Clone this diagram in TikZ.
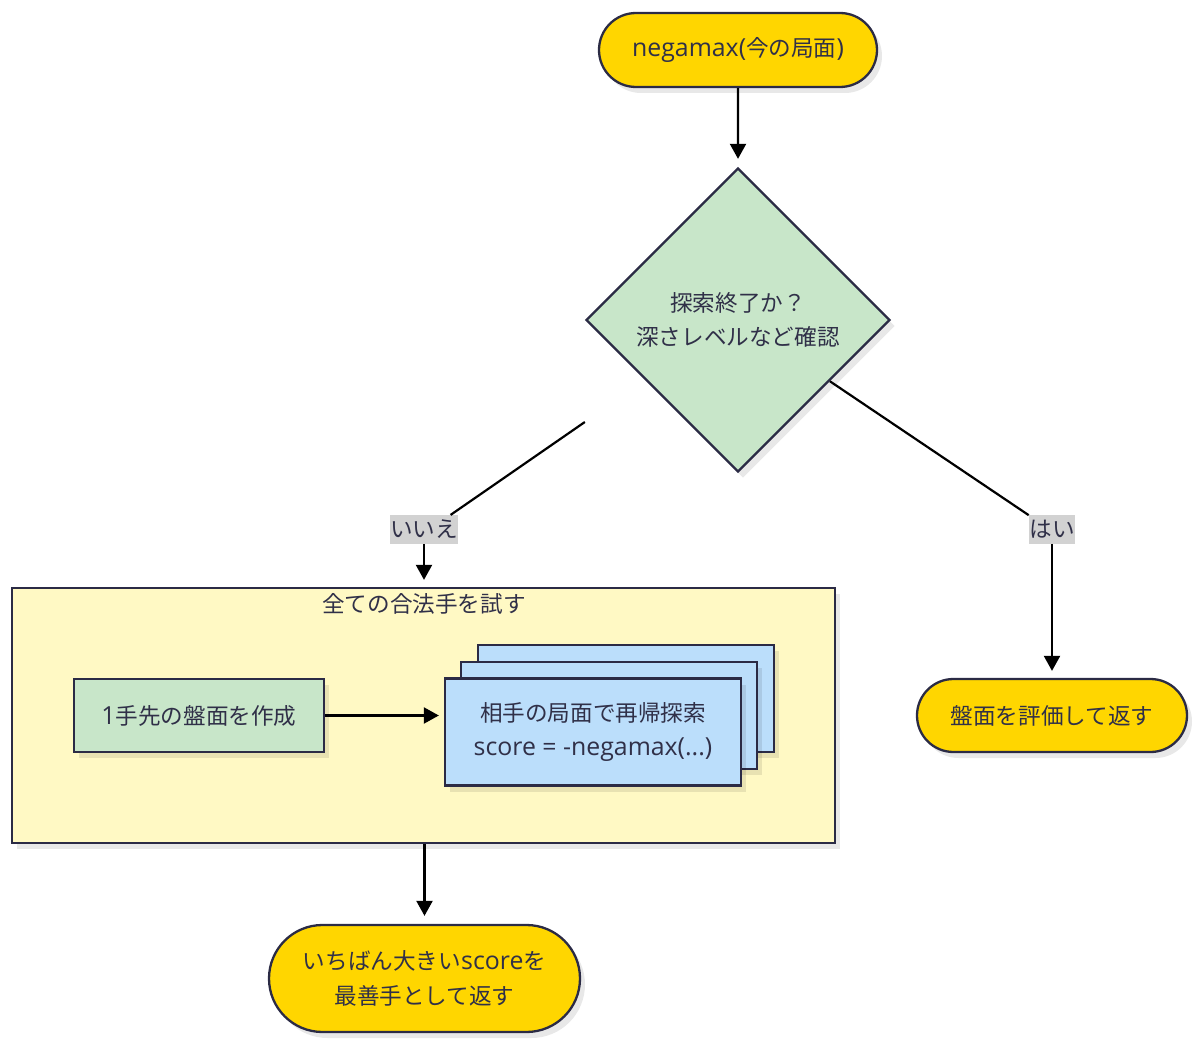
\documentclass[tikz,border=0pt]{standalone}
\usepackage{fontspec}
\setmainfont{Noto Sans CJK JP}
\newfontfamily\lat[Scale=1.1]{Open Sans}
\usetikzlibrary{shapes.geometric,shapes.misc,arrows.meta,shadows,calc}
\definecolor{gold}{HTML}{FFD600}
\definecolor{edgec}{HTML}{2B2B45}
\definecolor{txt}{HTML}{303048}
\definecolor{greenf}{HTML}{C8E6C9}
\definecolor{bluef}{HTML}{BBDEFB}
\definecolor{yellowf}{HTML}{FFF9C4}
\definecolor{lblbg}{HTML}{D2D2D2}
\tikzset{
  base/.style={draw=edgec, line width=2.3pt, text=txt, inner sep=0pt, align=center,
    font=\fontsize{22.6}{34.5}\selectfont,
    drop shadow={shadow xshift=5pt, shadow yshift=-6pt, fill=black, opacity=0.09}},
  term/.style={base, rounded rectangle, fill=gold},
  decision/.style={base, diamond, fill=greenf, minimum width=304pt, minimum height=304pt},
  procbox/.style={base, rectangle, fill=greenf},
  subbox/.style={base, rectangle, fill=bluef, minimum width=296pt, minimum height=107pt},
  cluster/.style={base, rectangle, fill=yellowf, minimum width=823pt, minimum height=255pt},
  lbl/.style={fill=lblbg, text=txt, inner xsep=0.5pt, inner ysep=5pt, font=\fontsize{22.6}{26}\selectfont},
  conn/.style={line width=2.2pt, black},
  arr/.style={conn, -{Triangle[length=15pt,width=16pt]}}
}
\begin{document}
\begin{tikzpicture}[x=1pt,y=-1pt]
\useasboundingbox (0,0) rectangle (1200,1046);
\node[term, minimum width=278pt, minimum height=74pt] (start) at (738,50) {{\lat negamax(}今の局面{\lat )}};
\node[decision] (dec) at (738,320) {探索終了か？\\深さレベルなど確認};
\node[lbl] (no) at (424,529.5) {いいえ};
\node[lbl] (yes) at (1052,529.5) {はい};
\node[cluster] (all) at (423.5,715.5) {};
\node[text=txt, font=\fontsize{22.6}{26}\selectfont, inner sep=0pt] (title) at (424,604) {全ての合法手を試す};
\node[procbox, minimum width=250pt, minimum height=73pt] (make) at (199,715.5) {{\lat 1}手先の盤面を作成};
\node[subbox] (stack3) at (626,698.5) {};
\node[subbox] (stack2) at (609,715.5) {};
\node[subbox] (rec) at (593,732) {相手の局面で再帰探索\\{\lat score = -negamax(...)}};
\node[term, minimum width=270pt, minimum height=73pt] (eval) at (1052,715.5) {盤面を評価して返す};
\node[term, minimum width=311pt, minimum height=107pt] (best) at (424.5,978.5) {いちばん大きい{\lat score}を\\最善手として返す};
\coordinate (dl) at ([yshift=-102pt]dec.west);
\draw[arr, shorten >=8pt] (start) -- (dec);
\draw[conn] (dl) -- ([xshift=-8pt]no.north east);
\draw[arr, shorten >=7pt] (no.south) -- (all.north -| no.south);
\draw[conn] ($(dec.east)!0.4!(dec.south)$) -- (yes.north west);
\draw[arr, shorten >=7pt] (yes.south) -- (eval.north);
\draw[arr, shorten >=5pt] (make.east) -- (make.east -| rec.west);
\draw[arr, shorten >=8pt] (all.south -| best.north) -- (best.north);
\end{tikzpicture}
\end{document}
